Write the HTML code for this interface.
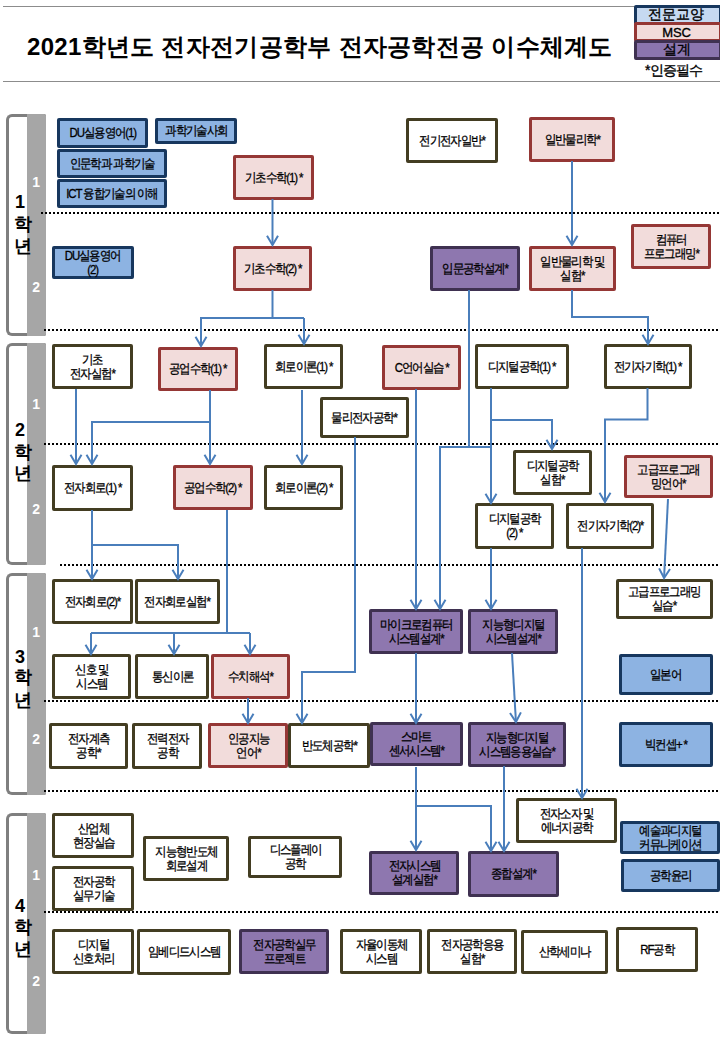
<!DOCTYPE html>
<html><head><meta charset="utf-8"><style>
html,body{margin:0;padding:0;background:#fff;}
body{width:720px;height:1040px;position:relative;overflow:hidden;font-family:"Liberation Sans",sans-serif;color:#000;}
.bx{position:absolute;box-sizing:border-box;border:3px solid;border-radius:2px;display:flex;align-items:center;justify-content:center;text-align:center;white-space:nowrap;}
.bx span{display:inline-block;font-size:13px;line-height:14px;letter-spacing:-1.25px;transform:scaleX(0.88);-webkit-text-stroke:0.3px #000;}
.st{position:absolute;left:6px;width:40px;box-sizing:border-box;border:3px solid #7F7F7F;border-right:none;border-radius:6px 2px 2px 6px;}
.gc{position:absolute;left:27px;width:19px;background:#A6A6A6;border-radius:0 2px 2px 0;}
.yd{position:absolute;left:10px;width:20px;text-align:center;font-weight:bold;font-size:18px;line-height:18px;}
.yh{position:absolute;left:12.7px;width:20px;text-align:center;font-weight:bold;font-size:18px;line-height:18px;}
.sm{position:absolute;left:26.2px;width:20px;text-align:center;color:#fff;font-weight:bold;font-size:14px;line-height:14px;}
.title{position:absolute;left:27px;top:30.5px;font-size:24px;letter-spacing:0.3px;font-weight:bold;white-space:nowrap;}
.lg{position:absolute;left:634px;width:88px;height:20px;box-sizing:border-box;border:3px solid;border-radius:2px;font-size:14px;line-height:14px;text-align:center;-webkit-text-stroke:0.35px #000;}
</style></head><body>

<div style="position:absolute;left:3px;top:6px;width:632px;height:1px;background:#8C8C8C"></div>
<div style="position:absolute;left:3px;top:81px;width:717px;height:1px;background:#8C8C8C"></div>
<div class="title">2021학년도 전자전기공학부 전자공학전공 이수체계도</div>
<div class="lg" style="top:5px;background:#C6D9F1;border-color:#17375E;"><span style="position:relative;left:-2px;top:-1.5px">전문교양</span></div>
<div class="lg" style="top:22px;background:#F2DCDB;border-color:#953735;"><span style="position:relative;left:-1.5px;top:-0.5px;font-size:13px;letter-spacing:-0.2px">MSC</span></div>
<div class="lg" style="top:40px;background:#8B75AE;border-color:#3F3151;"><span style="position:relative;left:-1px;top:-1.5px">설계</span></div>
<div style="position:absolute;left:645px;top:62px;font-size:14px;letter-spacing:-0.8px;-webkit-text-stroke:0.35px #000;white-space:nowrap">*인증필수</div>
<div class="st" style="top:114px;height:222px"></div>
<div class="gc" style="top:114px;height:222px"></div>
<div class="st" style="top:343px;height:222px"></div>
<div class="gc" style="top:343px;height:222px"></div>
<div class="st" style="top:573px;height:222px"></div>
<div class="gc" style="top:573px;height:222px"></div>
<div class="st" style="top:813px;height:221px"></div>
<div class="gc" style="top:813px;height:221px"></div>
<div class="yd" style="top:193.3px">1</div><div class="yh" style="top:214.5px">학</div><div class="yh" style="top:236.9px">년</div>
<div class="yd" style="top:421px">2</div><div class="yh" style="top:442.5px">학</div><div class="yh" style="top:464px">년</div>
<div class="yd" style="top:647.7px">3</div><div class="yh" style="top:668px">학</div><div class="yh" style="top:691px">년</div>
<div class="yd" style="top:897px">4</div><div class="yh" style="top:918px">학</div><div class="yh" style="top:940px">년</div>
<div class="sm" style="top:174.6px">1</div>
<div class="sm" style="top:280px">2</div>
<div class="sm" style="top:396.75px">1</div>
<div class="sm" style="top:502px">2</div>
<div class="sm" style="top:625.3px">1</div>
<div class="sm" style="top:732px">2</div>
<div class="sm" style="top:867.5px">1</div>
<div class="sm" style="top:973.5px">2</div>
<svg width="720" height="1040" style="position:absolute;left:0;top:0"><line x1="41" y1="213" x2="720" y2="213" stroke="#000" stroke-width="2" stroke-dasharray="2 2"/><line x1="44" y1="330" x2="720" y2="330" stroke="#000" stroke-width="2" stroke-dasharray="2 2"/><line x1="44" y1="444" x2="720" y2="444" stroke="#000" stroke-width="2" stroke-dasharray="2 2"/><line x1="60" y1="565" x2="720" y2="565" stroke="#000" stroke-width="2" stroke-dasharray="2 2"/><line x1="44" y1="701" x2="720" y2="701" stroke="#000" stroke-width="2" stroke-dasharray="2 2"/><line x1="44" y1="791" x2="720" y2="791" stroke="#000" stroke-width="2" stroke-dasharray="2 2"/><line x1="44" y1="912" x2="720" y2="912" stroke="#000" stroke-width="2" stroke-dasharray="2 2"/></svg>
<div class="bx" style="left:57px;top:118px;width:91px;height:30px;background:#8DB3E2;border-color:#17375E"><span>DU실용영어(1)</span></div>
<div class="bx" style="left:155px;top:118px;width:82px;height:26px;background:#8DB3E2;border-color:#17375E"><span>과학기술사회</span></div>
<div class="bx" style="left:57px;top:149px;width:110px;height:29px;background:#8DB3E2;border-color:#17375E"><span>인문학과 과학기술</span></div>
<div class="bx" style="left:57px;top:179px;width:110px;height:29px;background:#8DB3E2;border-color:#17375E"><span>ICT 융합기술의 이해</span></div>
<div class="bx" style="left:52px;top:246px;width:82px;height:33px;background:#8DB3E2;border-color:#17375E"><span>DU실용영어<br>(2)</span></div>
<div class="bx" style="left:233px;top:155px;width:81px;height:45px;background:#F2DCDB;border-color:#953735"><span>기초수학(1) *</span></div>
<div class="bx" style="left:233px;top:246px;width:79px;height:45px;background:#F2DCDB;border-color:#953735"><span>기초수학(2) *</span></div>
<div class="bx" style="left:406px;top:118px;width:92px;height:45px;background:#FFFFFF;border-color:#433D22"><span>전기전자일반*</span></div>
<div class="bx" style="left:529px;top:117px;width:86px;height:45px;background:#F2DCDB;border-color:#953735"><span>일반물리학*</span></div>
<div class="bx" style="left:631px;top:224px;width:80px;height:45px;background:#F2DCDB;border-color:#953735"><span>컴퓨터<br>프로그래밍*</span></div>
<div class="bx" style="left:430px;top:246px;width:90px;height:45px;background:#8E77AF;border-color:#3F3151"><span>입문공학설계*</span></div>
<div class="bx" style="left:529px;top:246px;width:87px;height:45px;background:#F2DCDB;border-color:#953735"><span>일반물리학 및<br>실험*</span></div>
<div class="bx" style="left:52px;top:344px;width:81px;height:45px;background:#FFFFFF;border-color:#433D22"><span>기초<br>전자실험*</span></div>
<div class="bx" style="left:158px;top:347px;width:80px;height:44px;background:#F2DCDB;border-color:#953735"><span>공업수학(1) *</span></div>
<div class="bx" style="left:264px;top:344px;width:79px;height:45px;background:#FFFFFF;border-color:#433D22"><span>회로이론(1) *</span></div>
<div class="bx" style="left:382px;top:345px;width:79px;height:45px;background:#F2DCDB;border-color:#953735"><span>C언어실습 *</span></div>
<div class="bx" style="left:475px;top:344px;width:94px;height:45px;background:#FFFFFF;border-color:#433D22"><span>디지털공학(1) *</span></div>
<div class="bx" style="left:604px;top:344px;width:88px;height:45px;background:#FFFFFF;border-color:#433D22"><span>전기자기학(1) *</span></div>
<div class="bx" style="left:320px;top:397px;width:89px;height:41px;background:#FFFFFF;border-color:#433D22"><span>물리전자공학*</span></div>
<div class="bx" style="left:513px;top:450px;width:79px;height:45px;background:#FFFFFF;border-color:#433D22"><span>디지털공학<br>실험*</span></div>
<div class="bx" style="left:624px;top:455px;width:89px;height:43px;background:#F2DCDB;border-color:#953735"><span>고급프로그래<br>밍언어*</span></div>
<div class="bx" style="left:52px;top:465px;width:81px;height:46px;background:#FFFFFF;border-color:#433D22"><span>전자회로(1) *</span></div>
<div class="bx" style="left:173px;top:465px;width:80px;height:45px;background:#F2DCDB;border-color:#953735"><span>공업수학(2) *</span></div>
<div class="bx" style="left:264px;top:465px;width:79px;height:45px;background:#FFFFFF;border-color:#433D22"><span>회로이론(2) *</span></div>
<div class="bx" style="left:475px;top:503px;width:79px;height:46px;background:#FFFFFF;border-color:#433D22"><span>디지털공학<br>(2) *</span></div>
<div class="bx" style="left:566px;top:503px;width:88px;height:46px;background:#FFFFFF;border-color:#433D22"><span>전기자기학(2)*</span></div>
<div class="bx" style="left:52px;top:579px;width:81px;height:45px;background:#FFFFFF;border-color:#433D22"><span>전자회로(2)*</span></div>
<div class="bx" style="left:135px;top:579px;width:85px;height:45px;background:#FFFFFF;border-color:#433D22"><span>전자회로실험*</span></div>
<div class="bx" style="left:369px;top:609px;width:94px;height:45px;background:#8E77AF;border-color:#3F3151"><span>마이크로컴퓨터<br>시스템설계*</span></div>
<div class="bx" style="left:468px;top:609px;width:90px;height:45px;background:#8E77AF;border-color:#3F3151"><span>지능형디지털<br>시스템설계*</span></div>
<div class="bx" style="left:616px;top:579px;width:97px;height:40px;background:#FFFFFF;border-color:#433D22"><span>고급프로그래밍<br>실습*</span></div>
<div class="bx" style="left:52px;top:654px;width:79px;height:45px;background:#FFFFFF;border-color:#433D22"><span>신호 및<br>시스템</span></div>
<div class="bx" style="left:135px;top:654px;width:74px;height:45px;background:#FFFFFF;border-color:#433D22"><span>통신이론</span></div>
<div class="bx" style="left:211px;top:654px;width:79px;height:45px;background:#F2DCDB;border-color:#953735"><span>수치해석*</span></div>
<div class="bx" style="left:619px;top:654px;width:94px;height:41px;background:#8DB3E2;border-color:#17375E"><span>일본어</span></div>
<div class="bx" style="left:49px;top:723px;width:79px;height:46px;background:#FFFFFF;border-color:#433D22"><span>전자계측<br>공학*</span></div>
<div class="bx" style="left:132px;top:723px;width:70px;height:46px;background:#FFFFFF;border-color:#433D22"><span>전력전자<br>공학</span></div>
<div class="bx" style="left:208px;top:723px;width:80px;height:45px;background:#F2DCDB;border-color:#953735"><span>인공지능<br>언어*</span></div>
<div class="bx" style="left:288px;top:723px;width:82px;height:45px;background:#FFFFFF;border-color:#433D22"><span>반도체공학*</span></div>
<div class="bx" style="left:370px;top:722px;width:93px;height:44px;background:#8E77AF;border-color:#3F3151"><span>스마트<br>센서시스템*</span></div>
<div class="bx" style="left:468px;top:722px;width:98px;height:45px;background:#8E77AF;border-color:#3F3151"><span>지능형디지털<br>시스템응용실습*</span></div>
<div class="bx" style="left:619px;top:722px;width:94px;height:45px;background:#8DB3E2;border-color:#17375E"><span>빅컨셉+ *</span></div>
<div class="bx" style="left:52px;top:813px;width:82px;height:45px;background:#FFFFFF;border-color:#433D22"><span>산업체<br>현장실습</span></div>
<div class="bx" style="left:52px;top:866px;width:82px;height:45px;background:#FFFFFF;border-color:#433D22"><span>전자공학<br>실무기술</span></div>
<div class="bx" style="left:143px;top:836px;width:86px;height:45px;background:#FFFFFF;border-color:#433D22"><span>지능형반도체<br>회로설계</span></div>
<div class="bx" style="left:248px;top:836px;width:94px;height:42px;background:#FFFFFF;border-color:#433D22"><span>디스플레이<br>공학</span></div>
<div class="bx" style="left:369px;top:851px;width:90px;height:44px;background:#8E77AF;border-color:#3F3151"><span>전자시스템<br>설계실험*</span></div>
<div class="bx" style="left:468px;top:851px;width:91px;height:46px;background:#8E77AF;border-color:#3F3151"><span>종합설계*</span></div>
<div class="bx" style="left:516px;top:798px;width:101px;height:45px;background:#FFFFFF;border-color:#433D22"><span>전자소자 및<br>에너지공학</span></div>
<div class="bx" style="left:620px;top:821px;width:100px;height:33px;background:#8DB3E2;border-color:#17375E"><span>예술과디지털<br>커뮤니케이션</span></div>
<div class="bx" style="left:621px;top:859px;width:99px;height:33px;background:#8DB3E2;border-color:#17375E"><span>공학윤리</span></div>
<div class="bx" style="left:52px;top:929px;width:82px;height:45px;background:#FFFFFF;border-color:#433D22"><span>디지털<br>신호처리</span></div>
<div class="bx" style="left:137px;top:929px;width:94px;height:46px;background:#FFFFFF;border-color:#433D22"><span>임베디드시스템</span></div>
<div class="bx" style="left:239px;top:929px;width:90px;height:45px;background:#8E77AF;border-color:#3F3151"><span>전자공학실무<br>프로젝트</span></div>
<div class="bx" style="left:340px;top:929px;width:82px;height:45px;background:#FFFFFF;border-color:#433D22"><span>자율이동체<br>시스템</span></div>
<div class="bx" style="left:427px;top:929px;width:90px;height:45px;background:#FFFFFF;border-color:#433D22"><span>전자공학응용<br>실험*</span></div>
<div class="bx" style="left:521px;top:930px;width:87px;height:44px;background:#FFFFFF;border-color:#433D22"><span>산학세미나</span></div>
<div class="bx" style="left:616px;top:927px;width:82px;height:45px;background:#FFFFFF;border-color:#433D22"><span>RF공학</span></div>
<svg width="720" height="1040" style="position:absolute;left:0;top:0"><path d="M272.5,199 L272.5,245.0" fill="none" stroke="#4A7EBB" stroke-width="2"/><path d="M267.0,235.7 L272.50,245.00 L278.0,235.7" fill="none" stroke="#4A7EBB" stroke-width="2"/><path d="M572,161 L572.0,245.0" fill="none" stroke="#4A7EBB" stroke-width="2"/><path d="M566.5,235.7 L572.00,245.00 L577.5,235.7" fill="none" stroke="#4A7EBB" stroke-width="2"/><path d="M272.5,290 L272.5,318" fill="none" stroke="#4A7EBB" stroke-width="2"/><path d="M200,318 L304,318" fill="none" stroke="#4A7EBB" stroke-width="2"/><path d="M201,318 L201.0,346.0" fill="none" stroke="#4A7EBB" stroke-width="2"/><path d="M195.5,336.7 L201.00,346.00 L206.5,336.7" fill="none" stroke="#4A7EBB" stroke-width="2"/><path d="M304,318 L304.0,344.0" fill="none" stroke="#4A7EBB" stroke-width="2"/><path d="M298.5,334.7 L304.00,344.00 L309.5,334.7" fill="none" stroke="#4A7EBB" stroke-width="2"/><path d="M469,290 L469,447 L440,447 L440.0,609.0" fill="none" stroke="#4A7EBB" stroke-width="2"/><path d="M434.5,599.7 L440.00,609.00 L445.5,599.7" fill="none" stroke="#4A7EBB" stroke-width="2"/><path d="M469,447 L491,447" fill="none" stroke="#4A7EBB" stroke-width="2"/><path d="M572,290 L572,317 L648,317 L648.0,344.0" fill="none" stroke="#4A7EBB" stroke-width="2"/><path d="M642.5,334.7 L648.00,344.00 L653.5,334.7" fill="none" stroke="#4A7EBB" stroke-width="2"/><path d="M76,389 L76.0,464.0" fill="none" stroke="#4A7EBB" stroke-width="2"/><path d="M70.5,454.7 L76.00,464.00 L81.5,454.7" fill="none" stroke="#4A7EBB" stroke-width="2"/><path d="M210,390 L210.0,464.0" fill="none" stroke="#4A7EBB" stroke-width="2"/><path d="M204.5,454.7 L210.00,464.00 L215.5,454.7" fill="none" stroke="#4A7EBB" stroke-width="2"/><path d="M210,422 L92,422 L92.0,464.0" fill="none" stroke="#4A7EBB" stroke-width="2"/><path d="M86.5,454.7 L92.00,464.00 L97.5,454.7" fill="none" stroke="#4A7EBB" stroke-width="2"/><path d="M302,390 L302.0,464.0" fill="none" stroke="#4A7EBB" stroke-width="2"/><path d="M296.5,454.7 L302.00,464.00 L307.5,454.7" fill="none" stroke="#4A7EBB" stroke-width="2"/><path d="M355,437 L355,672 L302,672 L302.0,723.0" fill="none" stroke="#4A7EBB" stroke-width="2"/><path d="M296.5,713.7 L302.00,723.00 L307.5,713.7" fill="none" stroke="#4A7EBB" stroke-width="2"/><path d="M416,389 L416.0,609.0" fill="none" stroke="#4A7EBB" stroke-width="2"/><path d="M410.5,599.7 L416.00,609.00 L421.5,599.7" fill="none" stroke="#4A7EBB" stroke-width="2"/><path d="M491,388 L491.0,503.0" fill="none" stroke="#4A7EBB" stroke-width="2"/><path d="M485.5,493.7 L491.00,503.00 L496.5,493.7" fill="none" stroke="#4A7EBB" stroke-width="2"/><path d="M491,420 L552,420 L552.0,449.0" fill="none" stroke="#4A7EBB" stroke-width="2"/><path d="M546.5,439.7 L552.00,449.00 L557.5,439.7" fill="none" stroke="#4A7EBB" stroke-width="2"/><path d="M647.5,388 L647.5,419.5 L605,419.5 L605.0,502.0" fill="none" stroke="#4A7EBB" stroke-width="2"/><path d="M599.5,492.7 L605.00,502.00 L610.5,492.7" fill="none" stroke="#4A7EBB" stroke-width="2"/><path d="M668,499 L664.05,578.0" fill="none" stroke="#4A7EBB" stroke-width="2"/><path d="M659.1,568.4 L664.05,578.00 L670.0,569.0" fill="none" stroke="#4A7EBB" stroke-width="2"/><path d="M92,510 L92.0,579.0" fill="none" stroke="#4A7EBB" stroke-width="2"/><path d="M86.5,569.7 L92.00,579.00 L97.5,569.7" fill="none" stroke="#4A7EBB" stroke-width="2"/><path d="M92,545 L178,545 L178.0,579.0" fill="none" stroke="#4A7EBB" stroke-width="2"/><path d="M172.5,569.7 L178.00,579.00 L183.5,569.7" fill="none" stroke="#4A7EBB" stroke-width="2"/><path d="M227,510 L227,633" fill="none" stroke="#4A7EBB" stroke-width="2"/><path d="M91,633 L250,633" fill="none" stroke="#4A7EBB" stroke-width="2"/><path d="M91,633 L91.0,654.0" fill="none" stroke="#4A7EBB" stroke-width="2"/><path d="M85.5,644.7 L91.00,654.00 L96.5,644.7" fill="none" stroke="#4A7EBB" stroke-width="2"/><path d="M174,633 L174.0,654.0" fill="none" stroke="#4A7EBB" stroke-width="2"/><path d="M168.5,644.7 L174.00,654.00 L179.5,644.7" fill="none" stroke="#4A7EBB" stroke-width="2"/><path d="M250,633 L250.0,654.0" fill="none" stroke="#4A7EBB" stroke-width="2"/><path d="M244.5,644.7 L250.00,654.00 L255.5,644.7" fill="none" stroke="#4A7EBB" stroke-width="2"/><path d="M491,548 L491.0,609.0" fill="none" stroke="#4A7EBB" stroke-width="2"/><path d="M485.5,599.7 L491.00,609.00 L496.5,599.7" fill="none" stroke="#4A7EBB" stroke-width="2"/><path d="M582,548 L582.0,798.0" fill="none" stroke="#4A7EBB" stroke-width="2"/><path d="M576.5,788.7 L582.00,798.00 L587.5,788.7" fill="none" stroke="#4A7EBB" stroke-width="2"/><path d="M248,698 L248.0,723.0" fill="none" stroke="#4A7EBB" stroke-width="2"/><path d="M242.5,713.7 L248.00,723.00 L253.5,713.7" fill="none" stroke="#4A7EBB" stroke-width="2"/><path d="M416,653 L416.0,723.0" fill="none" stroke="#4A7EBB" stroke-width="2"/><path d="M410.5,713.7 L416.00,723.00 L421.5,713.7" fill="none" stroke="#4A7EBB" stroke-width="2"/><path d="M512,653 L515.94,722.0" fill="none" stroke="#4A7EBB" stroke-width="2"/><path d="M510.0,713.0 L515.94,722.00 L520.9,712.4" fill="none" stroke="#4A7EBB" stroke-width="2"/><path d="M416,767 L416.0,850.0" fill="none" stroke="#4A7EBB" stroke-width="2"/><path d="M410.5,840.7 L416.00,850.00 L421.5,840.7" fill="none" stroke="#4A7EBB" stroke-width="2"/><path d="M416,806 L491,806 L491.0,851.0" fill="none" stroke="#4A7EBB" stroke-width="2"/><path d="M485.5,841.7 L491.00,851.00 L496.5,841.7" fill="none" stroke="#4A7EBB" stroke-width="2"/><path d="M504,766 L504.0,851.0" fill="none" stroke="#4A7EBB" stroke-width="2"/><path d="M498.5,841.7 L504.00,851.00 L509.5,841.7" fill="none" stroke="#4A7EBB" stroke-width="2"/></svg>
</body></html>
